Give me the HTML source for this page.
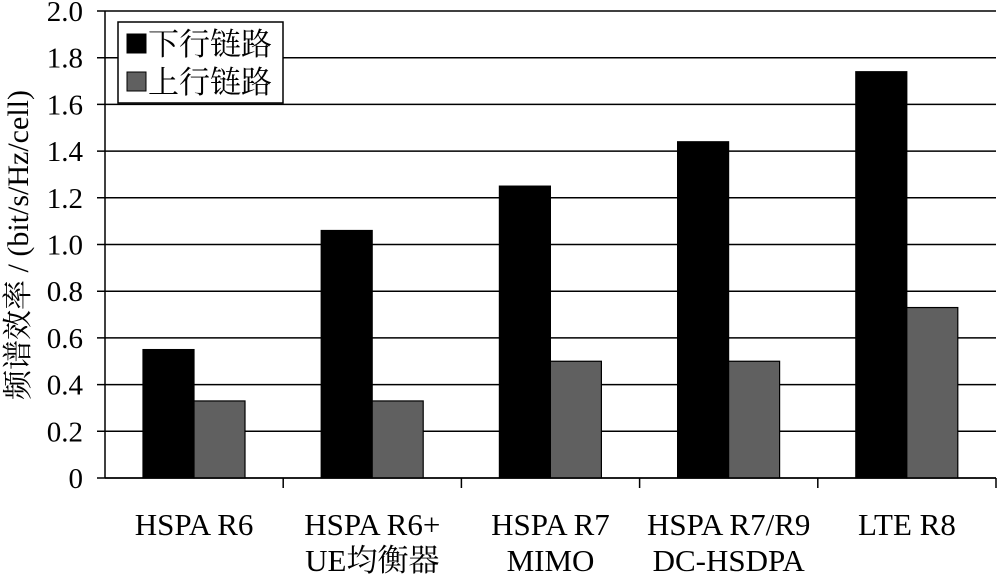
<!DOCTYPE html>
<html><head><meta charset="utf-8"><style>
body{margin:0;background:#fff}
svg text{font-family:"Liberation Serif","Noto Serif CJK SC",serif;fill:#000}
</style></head><body>
<svg id="c" width="997" height="574" xmlns="http://www.w3.org/2000/svg"></svg>
<script>
const categories=[["HSPA R6"],["HSPA R6+","UE均衡器"],["HSPA R7","MIMO"],["HSPA R7/R9","DC-HSDPA"],["LTE R8"]];
const downlink=[0.55,1.06,1.25,1.44,1.74];
const uplink=[0.33,0.33,0.50,0.50,0.73];
const yTicks=[0,0.2,0.4,0.6,0.8,1.0,1.2,1.4,1.6,1.8,2.0];
const yTickLabels=["0","0.2","0.4","0.6","0.8","1.0","1.2","1.4","1.6","1.8","2.0"];
const svg=document.getElementById('c');const NS="http://www.w3.org/2000/svg";
const L=105,R=996,T=11,B=478;
const y=v=>B-(v/2.0)*(B-T);
const cw=(R-L)/categories.length;
const x=i=>L+i*cw;
function mk(t,a,p){const e=document.createElementNS(NS,t);for(const k in a)e.setAttribute(k,a[k]);(p||svg).appendChild(e);return e;}
yTicks.forEach((v,i)=>{
 const g=mk('line',{x1:97,x2:R,y1:y(v),y2:y(v),stroke:'#000','stroke-width':1.5});
 
 
 const t=mk('text',{x:83,y:y(v)+10,'text-anchor':'end','font-size':29});t.textContent=yTickLabels[i];
 
 
});
categories.forEach((c,i)=>{
 const tk=mk('line',{x1:x(i+1),x2:x(i+1),y1:B,y2:B+10,stroke:'#000','stroke-width':1.5});
 
 
 const bx=x(i)+38,bw=51;
 const b1=mk('rect',{x:bx,y:y(downlink[i]),width:bw,height:B-y(downlink[i]),fill:'#000',stroke:'#000','stroke-width':1.2});
 
 
 const b2=mk('rect',{x:bx+bw,y:y(uplink[i]),width:bw,height:B-y(uplink[i]),fill:'#606060',stroke:'#000','stroke-width':1.2});
 
 
 c.forEach((s,j)=>{const t=mk('text',{x:x(i)+cw/2,y:535+j*36,'text-anchor':'middle','font-size':31});t.textContent=s;
 
 });
});
const ax=mk('line',{x1:L,x2:L,y1:T,y2:B,stroke:'#000','stroke-width':1.5});

const ax2=mk('line',{x1:L,x2:R,y1:B,y2:B,stroke:'#000','stroke-width':1.5});

const yt=mk('text',{x:0,y:0,'text-anchor':'middle','font-size':30,transform:'translate(28,245) rotate(-90)'});
yt.textContent='频谱效率 / (bit/s/Hz/cell)';

const lg=mk('g',{});
mk('rect',{x:118,y:22,width:165,height:81,fill:'#fff',stroke:'#000','stroke-width':1.5},lg);
[['#000','下行链路'],['#606060','上行链路']].forEach((d,i)=>{
 const s=mk('rect',{x:127,y:34+i*38,width:19,height:19,fill:d[0],stroke:'#000'},lg);
 
 const t=mk('text',{x:148,y:55+i*38,'font-size':31},lg);t.textContent=d[1];
 
});
</script>
</body></html>
